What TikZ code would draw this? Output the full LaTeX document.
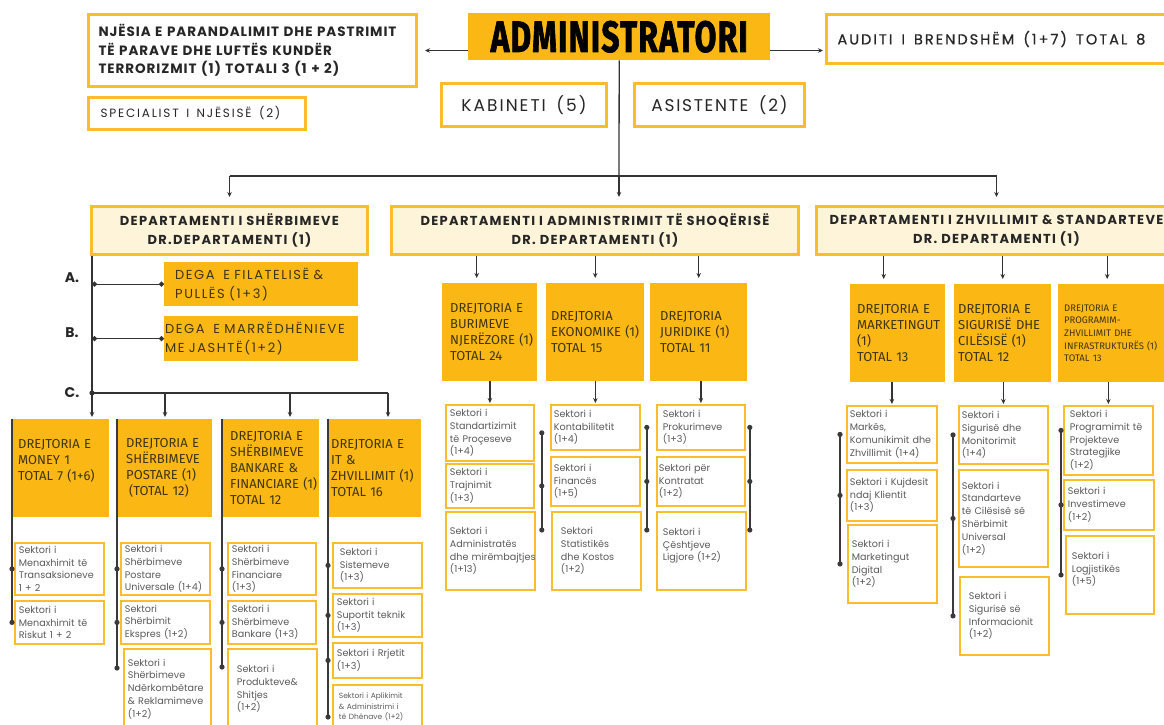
\documentclass[tikz,border=0pt]{standalone}
\usepackage{fontspec}
\usepackage{graphicx}
\usepackage{tikz}
\usetikzlibrary{arrows.meta,calc}
\setmainfont{Poppins}
\newfontfamily\drjfont{Fira Sans}
\hyphenpenalty=10000
\exhyphenpenalty=10000
\protected\def\hdrspace{\spaceskip=.62em\relax}
\definecolor{borange}{HTML}{FDBC2C}
\definecolor{forange}{HTML}{FBB815}
\definecolor{cream}{HTML}{FEF4DA}
\definecolor{inkc}{HTML}{262626}
\definecolor{drjtext}{HTML}{3F3414}
\definecolor{sgray}{HTML}{5A5A5A}
\definecolor{linec}{HTML}{333333}
\definecolor{spinec}{HTML}{3A3A3A}

\begin{document}
\begin{tikzpicture}[x=1pt,y=-1pt,
    hdr/.style={draw=borange,line width=3pt,fill=white,anchor=north west,align=left,text=inkc},
    dept/.style={draw=borange,line width=3pt,fill=cream,anchor=north west,align=center,text=inkc,
        minimum height=48pt,font=\bfseries\fontsize{13}{19}\selectfont\addfontfeature{LetterSpace=10}},
    dega/.style={fill=forange,anchor=north west,align=left,text=drjtext,minimum height=44pt,
        font=\fontsize{13}{19}\selectfont\addfontfeature{LetterSpace=12}},
    drj/.style={fill=forange,anchor=north west,align=left,text=drjtext,minimum height=98pt,
        inner ysep=0pt,font=\drjfont\fontsize{13}{16}\selectfont},
    sek/.style={draw=borange,line width=1.8pt,fill=white,anchor=north west,align=left,text=sgray,
        inner ysep=1pt,font=\fontsize{9.6}{12.8}\selectfont},
    line/.style={draw=linec,line width=1.3pt},
    arr/.style={line,-{Stealth[length=5pt,width=4.5pt]}},
    dotline/.style={line,{Circle[length=5pt]}-{Circle[length=5pt]}},
    spine/.style={draw=spinec,line width=2.2pt},
    lbl/.style={font=\bfseries\fontsize{14}{16}\selectfont,text=inkc}]
\useasboundingbox (0,0) rectangle (1164,724);
\clip (0,0) rectangle (1164,724);
\fill[white] (0,0) rectangle (1164,724);

\node[hdr,minimum width=328pt,minimum height=72pt,inner xsep=10pt,text width=308pt,
    font=\bfseries\fontsize{13.5}{18.5}\selectfont\addfontfeature{LetterSpace=7}] (njesia) at (87,13)
    {NJËSIA E PARANDALIMIT DHE PASTRIMIT\\TË PARAVE DHE LUFTËS KUNDËR\\TERRORIZMIT (1) TOTALI 3 (1 + 2)};
\node[hdr,minimum width=217pt,minimum height=32pt,inner xsep=12pt,text width=193pt,
    font=\fontsize{12}{14}\selectfont\addfontfeature{LetterSpace=15}] (spec) at (87,96) {\hdrspace SPECIALIST I NJËSISË (2)};
\node[fill=forange,minimum width=302pt,minimum height=47pt,anchor=north west,inner sep=0pt] (admin) at (468,13)
    {\resizebox{257pt}{31pt}{\drjfont\bfseries\addfontfeature{FakeBold=2,LetterSpace=4}ADMINISTRATORI}};
\node[hdr,align=center,minimum width=165pt,minimum height=43pt,
    font=\fontsize{17}{20}\selectfont\addfontfeature{LetterSpace=12}] (kab) at (440,82) {\hdrspace KABINETI (5)};
\node[hdr,align=center,minimum width=170pt,minimum height=43pt,
    font=\fontsize{17}{20}\selectfont\addfontfeature{LetterSpace=10}] (asis) at (633,82) {\hdrspace ASISTENTE (2)};
\node[hdr,minimum width=350pt,minimum height=49pt,inner xsep=11pt,text width=328pt,
    font=\fontsize{14.5}{17}\selectfont\addfontfeature{LetterSpace=14,FakeBold=0.6}] (audit) at (825,13)
    {\hdrspace AUDITI I BRENDSHËM (1+7) TOTAL 8};

\node[dept,minimum width=276pt] (d1) at (90,205) {DEPARTAMENTI I SHËRBIMEVE\\DR.DEPARTAMENTI (1)};
\node[dept,minimum width=407pt] (d2) at (390,205) {DEPARTAMENTI I ADMINISTRIMIT TË SHOQËRISË\\DR. DEPARTAMENTI (1)};
\node[dept,minimum width=360pt] (d3) at (815,205) {DEPARTAMENTI I ZHVILLIMIT \& STANDARTEVE\\DR. DEPARTAMENTI (1)};

\node[dega,minimum width=194pt,inner xsep=11pt,text width=172pt] (degaA) at (164,262) {DEGA\ \ E FILATELISË \&\\PULLËS (1+3)};
\node[dega,minimum width=194pt,minimum height=45pt,inner xsep=1pt,text width=192pt] (degaB) at (164,316) {DEGA\ \ E MARRËDHËNIEVE\\ME JASHTË(1+2)};
\node[lbl] (la) at (72,278) {A.};
\node[lbl] (lb) at (72,333) {B.};
\node[lbl] (lc) at (72,393) {C.};

\node[drj,minimum width=97pt,inner xsep=6pt,text width=85pt] (money) at (12,419) {DREJTORIA E\\MONEY 1\\TOTAL~7~(1+6)\\\mbox{}};
\node[drj,minimum width=95pt,inner xsep=9pt,text width=77pt] (postare) at (117,419) {DREJTORIA E\\SHËRBIMEVE\\POSTARE~(1)\\\hspace*{3pt}(TOTAL~12)};
\node[drj,minimum width=97pt,inner xsep=8pt,text width=81pt] (bankare) at (222,419) {DREJTORIA E\\SHËRBIMEVE\\BANKARE~\&\\FINANCIARE~(1)\\TOTAL 12};
\node[drj,minimum width=93pt,inner xsep=3pt,text width=87pt] (it) at (328,419) {DREJTORIA E\\IT \&\\ZHVILLIMIT~(1)\\TOTAL 16};

\node[drj,minimum width=95pt,inner xsep=8pt,text width=79pt] (bn) at (442,283) {DREJTORIA E\\BURIMEVE\\NJERËZORE~(1)\\TOTAL 24};
\node[drj,minimum width=98pt,inner xsep=5pt,text width=88pt] (ek) at (546,283) {DREJTORIA\\EKONOMIKE~(1)\\TOTAL 15};
\node[drj,minimum width=97pt,inner xsep=10pt,text width=77pt] (ju) at (650,283) {DREJTORIA\\JURIDIKE~(1)\\TOTAL 11};

\node[drj,minimum width=95pt,inner xsep=7pt,text width=81pt] (mk) at (850,284) {DREJTORIA E\\MARKETINGUT\\(1)\\TOTAL 13};
\node[drj,minimum width=97pt,inner xsep=4pt,text width=89pt] (sc) at (954,284) {DREJTORIA E\\SIGURISË~DHE\\CILËSISË~(1)\\TOTAL 12};
\node[drj,minimum width=112pt,inner xsep=6pt,text width=100pt,font=\drjfont\fontsize{9.5}{12.7}\selectfont] (pz) at (1058,284)
    {DREJTORIA E\\PROGRAMIM-\\ZHVILLIMIT~DHE\\INFRASTRUKTURËS~(1)\\TOTAL 13};

\node[sek,minimum width=89pt,minimum height=52pt,inner xsep=4pt,text width=81pt] (m1) at (14,542) {Sektori i\\Menaxhimit të\\Transaksioneve\\1 + 2};
\node[sek,minimum width=89pt,minimum height=43pt,inner xsep=4pt,text width=81pt] (m2) at (14,600) {Sektori i\\Menaxhimit të\\Riskut 1 + 2};
\node[sek,minimum width=89pt,minimum height=52pt,inner xsep=4pt,text width=81pt] (p1) at (120,542) {Sektori i\\Shërbimeve\\Postare\\Universale~(1+4)};
\node[sek,minimum width=89pt,minimum height=43pt,inner xsep=4pt,text width=81pt] (p2) at (120,600) {Sektori\\Shërbimit\\Ekspres (1+2)};
\node[sek,minimum width=87pt,minimum height=80pt,inner xsep=4pt,text width=79pt] (p3) at (123,648) {Sektori i\\Shërbimeve\\Ndërkombëtare\\\& Reklamimeve\\(1+2)};
\node[sek,minimum width=88pt,minimum height=52pt,inner xsep=4pt,text width=80pt] (b1) at (227,542) {Sektori i\\Shërbimeve\\Financiare\\(1+3)};
\node[sek,minimum width=88pt,minimum height=43pt,inner xsep=4pt,text width=80pt] (b2) at (227,600) {Sektori i\\Shërbimeve\\Bankare~(1+3)};
\node[sek,minimum width=89pt,minimum height=80pt,inner xsep=9pt,text width=71pt] (b3) at (227,648) {Sektori i\\Produkteve\&\\Shitjes\\(1+2)};
\node[sek,minimum width=89pt,minimum height=45pt,inner xsep=7pt,text width=75pt] (i1) at (332,542) {Sektori i\\Sistemeve\\(1+3)};
\node[sek,minimum width=89pt,minimum height=43pt,inner xsep=4pt,text width=81pt] (i2) at (332,593) {Sektori i\\Suportit~teknik\\(1+3)};
\node[sek,minimum width=89pt,minimum height=35pt,inner xsep=4pt,text width=81pt] (i3) at (332,642) {Sektori~i~Rrjetit\\(1+3)};
\node[sek,minimum width=89pt,minimum height=44pt,inner xsep=6pt,text width=77pt,font=\fontsize{7.5}{10.8}\selectfont] (i4) at (332,684)
    {Sektori~i~Aplikimit\\\&~Administrimi~i\\të~Dhënave~(1+2)};

\node[sek,minimum width=88pt,minimum height=56pt,inner xsep=4pt,text width=80pt] (bn1) at (445,404) {Sektori i\\Standartizimit\\të~Proçeseve\\(1+4)};
\node[sek,minimum width=88pt,minimum height=44pt,inner xsep=4pt,text width=80pt] (bn2) at (445,463) {Sektori i\\Trajnimit\\(1+3)};
\node[sek,minimum width=89pt,minimum height=78pt,inner xsep=4pt,text width=81pt] (bn3) at (445,511) {Sektori i\\Administratës\\dhe~mirëmbajtjes\\(1+13)};
\node[sek,minimum width=89pt,minimum height=45pt,inner xsep=3pt,text width=83pt] (ek1) at (550,404) {Sektori i\\Kontabilitetit\\(1+4)};
\node[sek,minimum width=89pt,minimum height=49pt,inner xsep=3pt,text width=83pt] (ek2) at (550,456) {Sektori i\\Financës\\(1+5)};
\node[sek,minimum width=89pt,minimum height=78pt,inner xsep=9pt,text width=71pt] (ek3) at (551,511) {Sektori\\Statistikës\\dhe~Kostos\\(1+2)};
\node[sek,minimum width=88pt,minimum height=45pt,inner xsep=6pt,text width=76pt] (ju1) at (656,404) {Sektori i\\Prokurimeve\\(1+3)};
\node[sek,minimum width=88pt,minimum height=49pt,inner xsep=2pt,text width=84pt] (ju2) at (656,456) {Sektori~për\\Kontratat\\(1+2)};
\node[sek,minimum width=89pt,minimum height=78pt,inner xsep=6pt,text width=77pt] (ju3) at (656,511) {Sektori i\\Çështjeve\\Ligjore~(1+2)\\\mbox{}};

\node[sek,minimum width=90pt,minimum height=57pt,inner xsep=3pt,text width=84pt] (mk1) at (846,405) {Sektori i\\Markës,\\Komunikimit~dhe\\Zhvillimit~(1+4)};
\node[sek,minimum width=90pt,minimum height=51pt,inner xsep=3pt,text width=84pt] (mk2) at (846,469) {Sektori~i~Kujdesit\\ndaj~Klientit\\(1+3)};
\node[sek,minimum width=89pt,minimum height=78pt,inner xsep=4pt,text width=81pt] (mk3) at (847,524) {Sektori i\\Marketingut\\Digital\\(1+2)};
\node[sek,minimum width=89pt,minimum height=58pt,inner xsep=3pt,text width=83pt] (sc1) at (958,405) {Sektori i\\Sigurisë~dhe\\Monitorimit\\(1+4)};
\node[sek,minimum width=89pt,minimum height=97pt,inner xsep=3pt,text width=83pt] (sc2) at (958,469) {Sektori i\\Standarteve\\të~Cilësisë~së\\Shërbimit\\Universal\\(1+2)};
\node[sek,minimum width=89pt,minimum height=78pt,inner xsep=9pt,text width=71pt] (sc3) at (959,576) {Sektori i\\Sigurisë~së\\Informacionit\\(1+2)};
\node[sek,minimum width=89pt,minimum height=69pt,inner xsep=6pt,text width=77pt] (pz1) at (1063,405) {Sektori i\\Programimit~të\\Projekteve\\Strategjike\\(1+2)};
\node[sek,minimum width=90pt,minimum height=50pt,inner xsep=4pt,text width=82pt] (pz2) at (1063,479) {Sektori i\\Investimeve\\(1+2)};
\node[sek,minimum width=88pt,minimum height=78pt,inner xsep=6pt,text width=76pt] (pz3) at (1065,535) {Sektori i\\Logjistikës\\(1+5)\\\mbox{}};

\draw[arr,shorten >=7pt] (njesia.east -| admin.west) -- (njesia.east);
\draw[arr,shorten >=2pt] (njesia.east -| admin.east) -- (njesia.east -| audit.west);
\coordinate (bus) at (619,176);
\draw[line] (admin.south) -- (bus);
\draw[line] (bus -| d1.north) -- (bus -| d3.north);
\draw[arr,shorten >=8pt] (bus -| d1.north) -- (d1.north);
\draw[arr,shorten >=8pt] (bus) -- (bus |- d2.north);
\draw[arr,shorten >=8pt] (bus -| d3.north) -- (d3.north);

\coordinate (c1) at (92,393);
\coordinate (c2) at (165,393);
\coordinate (c3) at (290,393);
\coordinate (c4) at (388,393);
\draw[line] (c1 |- d1.south) -- (c1) -- (c4);
\draw[dotline] (c1 |- degaA.west) -- (degaA.west);
\draw[dotline] (c1 |- degaB.west) -- (degaB.west);
\fill[linec] (c1) circle (2.6pt);
\draw[arr,shorten >=2pt] (c1) -- (c1 |- money.north);
\foreach \c/\n in {c2/postare,c3/bankare,c4/it}
    \draw[arr,shorten >=2pt] (\c) -- (\c |- \n.north);

\draw[spine] (money.north west) -- (money.north west |- m2.west);
\foreach \n in {m1,m2} \fill[spinec] (money.north west |- \n.west) circle (2.6pt);
\coordinate (pe) at ($(postare.north west |- p3.north)+(0,20)$);
\draw[spine] (postare.north west) -- (pe);
\foreach \n in {p1,p2} \fill[spinec] (postare.north west |- \n.west) circle (2.6pt);
\fill[spinec] (pe) circle (2.6pt);
\coordinate (be) at ($(bankare.north west |- b3.north)+(0,19)$);
\draw[spine] (bankare.north west) -- (be);
\foreach \n in {b1,b2} \fill[spinec] (bankare.north west |- \n.west) circle (2.6pt);
\fill[spinec] (be) circle (2.6pt);
\coordinate (ie) at ($(it.north west |- i4.north)+(0,33)$);
\draw[spine] (it.north west) -- (ie);
\foreach \n in {i1,i2,i3} \fill[spinec] (it.north west |- \n.west) circle (2.6pt);
\fill[spinec] (ie) circle (2.6pt);

\coordinate (bnt) at ([xshift=-13pt]bn.north);
\draw[arr,shorten >=5pt] (bnt |- d2.south) -- (bnt);
\draw[arr,shorten >=5pt] (ek.north |- d2.south) -- (ek.north);
\draw[arr,shorten >=5pt] (ju.north |- d2.south) -- (ju.north);
\foreach \a/\b in {bn/bn1,ek/ek1,ju/ju1}
    \draw[arr,shorten >=1pt] (\b.north |- \a.south) -- (\b.north);
\foreach \s/\d in {bn/7,ek/6,ju/4} {
    \coordinate (\s s1) at ([xshift=\d pt]\s1.east);
    \coordinate (\s s3) at ($(\s s1 |- \s3.north)+(0,19)$);
    \draw[spine] (\s s1) -- (\s s3);
    \fill[spinec] (\s s1) circle (2.6pt) (\s s1 |- \s2.east) circle (2.6pt) (\s s3) circle (2.6pt);
}

\coordinate (mkt) at ([xshift=-14pt]mk.north);
\coordinate (pzt) at ([xshift=-7pt]pz.north);
\draw[arr,shorten >=5pt] (mkt |- d3.south) -- (mkt);
\draw[arr,shorten >=5pt] (sc.north |- d3.south) -- (sc.north);
\draw[arr,shorten >=5pt] (pzt |- d3.south) -- (pzt);
\foreach \a/\b in {mk/mk1,sc/sc1,pz/pz1}
    \draw[arr,shorten >=1pt] (\b.north |- \a.south) -- (\b.north);
\coordinate (ms) at ([xshift=-6pt]mk1.west);
\coordinate (ss) at ([xshift=-5pt]sc1.west);
\coordinate (ps) at ([shift={(-2pt,10pt)}]pz1.west);
\foreach \s/\b in {ms/mk,ss/sc,ps/pz} {
    \draw[spine] (\s) -- (\s |- \b3.west);
    \fill[spinec] (\s) circle (2.6pt) (\s |- \b2.west) circle (2.6pt) (\s |- \b3.west) circle (2.6pt);
}
\end{tikzpicture}
\end{document}
